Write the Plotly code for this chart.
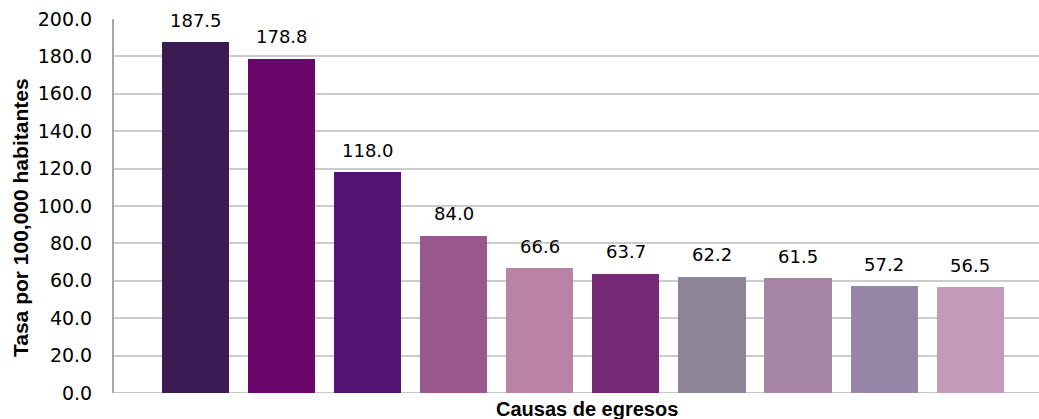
import plotly.graph_objects as go

categories = ["C1", "C2", "C3", "C4", "C5", "C6", "C7", "C8", "C9", "C10"]
values = [187.5, 178.8, 118.0, 84.0, 66.6, 63.7, 62.2, 61.5, 57.2, 56.5]
colors = ["#3b1c52", "#6b066b", "#521470", "#9a578b", "#ba82a6",
          "#762977", "#8d8598", "#a684a6", "#9585a6", "#c499b9"]
y_ticks = [0, 20, 40, 60, 80, 100, 120, 140, 160, 180, 200]
x_title = "Causas de egresos"
y_title = "Tasa por 100,000 habitantes"

idx = list(range(len(categories)))
title_family = "Liberation Sans Narrow, Liberation Sans"

fig = go.Figure()
fig.add_trace(go.Bar(
    x=idx, y=values, marker=dict(color=colors, line=dict(width=0)),
    width=0.78, hovertext=categories,
))
for i, v in zip(idx, values):
    fig.add_annotation(x=i, y=v, text=f"{v:.1f}", showarrow=False,
                       yshift=22, font=dict(family="DejaVu Sans", size=18, color="#000"))

fig.add_annotation(xref="paper", yref="paper", x=0.511, y=-0.043,
                   xanchor="center", yanchor="middle", showarrow=False,
                   text=f"<b>{x_title}</b>",
                   font=dict(family=title_family, size=20, color="#000"))
fig.add_annotation(xref="paper", yref="paper", x=-0.1005, y=0.468,
                   xanchor="center", yanchor="middle", showarrow=False, textangle=-90,
                   text=f"<b>{y_title}</b>",
                   font=dict(family=title_family, size=21, color="#000"))

fig.update_layout(
    width=1039, height=419,
    margin=dict(l=114, r=0, t=19, b=26),
    plot_bgcolor="white", paper_bgcolor="white",
    showlegend=False,
    bargap=0,
    xaxis=dict(range=[-0.947, 9.80], showticklabels=False, showgrid=False,
               zeroline=False, showline=False, automargin=False),
    yaxis=dict(range=[0, 200], tickvals=y_ticks, tickformat=".1f",
               showgrid=True, gridcolor="#cccccc", gridwidth=2, automargin=False,
               zeroline=False, showline=True, linecolor="#a6a6a6", linewidth=2,
               ticks="outside", ticklen=16, tickcolor="white",
               tickfont=dict(family="DejaVu Sans", size=19, color="#000")),
)
fig.add_shape(type="line", xref="paper", yref="y", x0=0, x1=1, y0=0, y1=0,
              line=dict(color="#c8c8c8", width=2), layer="below")

fig.write_html("out.html", config={"displayModeBar": False},
               post_script="document.body.style.margin='0';document.body.style.overflow='hidden';")
